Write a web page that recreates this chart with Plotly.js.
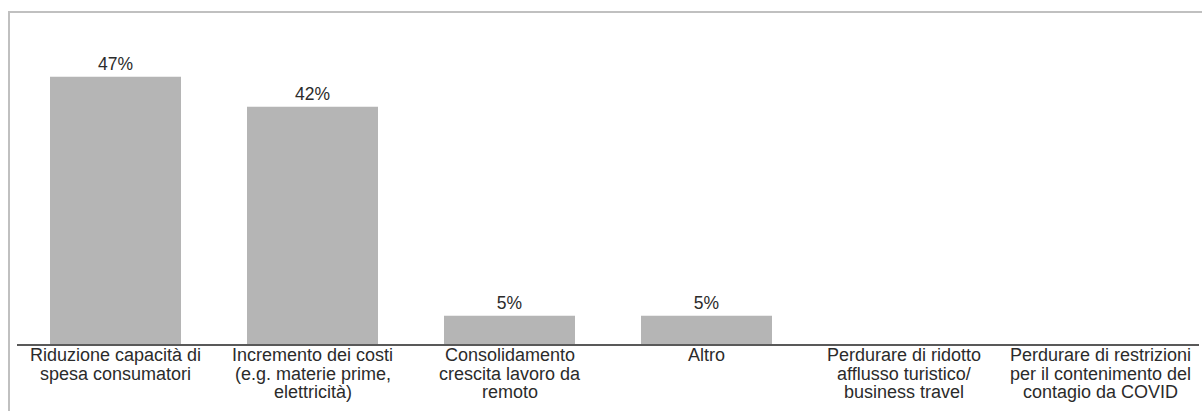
<!DOCTYPE html>
<html>
<head>
<meta charset="utf-8">
<script src="https://cdn.plot.ly/plotly-3.0.1.min.js"></script>
<style>
  html, body { margin: 0; padding: 0; background: #ffffff; overflow: hidden; }
  #frame { position: absolute; left: 8px; top: 11px; width: 1300px; height: 500px;
           border: 2px solid #c0c0c0; box-sizing: border-box; pointer-events: none; z-index: 2; }
  #chart { position: absolute; left: 0; top: 0; width: 1202px; height: 411px; z-index: 1; }
</style>
</head>
<body>
<div id="frame"></div>
<div id="chart"></div>
<script>
// ---- data ----
const categories = [
  "Riduzione capacità di<br>spesa consumatori",
  "Incremento dei costi<br>(e.g. materie prime,<br>elettricità)",
  "Consolidamento<br>crescita lavoro da<br>remoto",
  "Altro",
  "Perdurare di ridotto<br>afflusso turistico/<br>business travel",
  "Perdurare di restrizioni<br>per il contenimento del<br>contagio da COVID"
];
const values = [47.3, 42.0, 5.0, 5.0, 0, 0];
const valueLabels = ["47%", "42%", "5%", "5%", "", ""];

// ---- chart ----
const trace = {
  type: "bar",
  x: categories,
  y: values,
  text: valueLabels,
  textposition: "outside",
  cliponaxis: false,
  textfont: { family: "Liberation Sans, Arial, sans-serif", size: 17.5, color: "#2b2b2b" },
  marker: { color: "#b5b5b5", line: { width: 0 } },
  hoverinfo: "skip"
};

const annotations = [];
categories.forEach(function (cat) {
  const lines = cat.split("<br>");
  lines.forEach(function (ln, i) {
    annotations.push({
      x: cat, xref: "x",
      y: 0, yref: "y",
      yanchor: "top", xanchor: "center",
      yshift: -1 - 18.5 * i,
      text: ln,
      showarrow: false,
      borderpad: 0, borderwidth: 0,
      font: { family: "Liberation Sans, Arial, sans-serif", size: 18, color: "#2b2b2b" }
    });
  });
});

const layout = {
  width: 1202, height: 411,
  margin: { l: 17, r: 3, t: 20, b: 67 },
  paper_bgcolor: "rgba(0,0,0,0)",
  plot_bgcolor: "rgba(0,0,0,0)",
  showlegend: false,
  bargap: 0.335,
  xaxis: {
    type: "category",
    showticklabels: false,
    showgrid: false,
    zeroline: false,
    showline: true,
    linecolor: "#595959",
    linewidth: 1.5,
    ticks: ""
  },
  yaxis: {
    range: [0, 57.33],
    visible: false,
    showgrid: false,
    zeroline: false
  },
  annotations: annotations
};

Plotly.newPlot("chart", [trace], layout, { displayModeBar: false, staticPlot: true });
</script>
</body>
</html>
